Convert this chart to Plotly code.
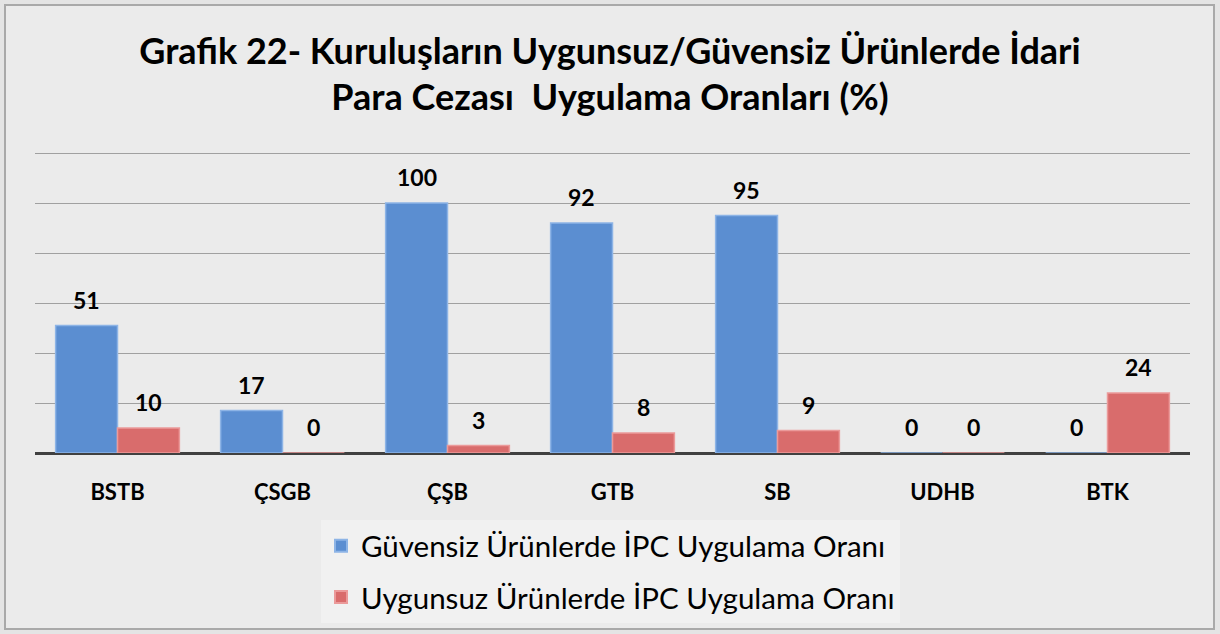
import plotly.graph_objects as go

categories = ["BSTB", "ÇSGB", "ÇŞB", "GTB", "SB", "UDHB", "BTK"]
guvensiz = [51, 17, 100, 92, 95, 0, 0]
uygunsuz = [10, 0, 3, 8, 9, 0, 24]
series_names = ["Güvensiz Ürünlerde İPC Uygulama Oranı",
                "Uygunsuz Ürünlerde İPC Uygulama Oranı"]
title_text = "Grafik 22- Kuruluşların Uygunsuz/Güvensiz Ürünlerde İdari<br>Para Cezası  Uygulama Oranları (%)"

FONT = "Lato"
blue = "#5b8ed1"
red = "#d96c6c"

fig = go.Figure()
fig.add_trace(go.Bar(x=categories, y=guvensiz, name=series_names[0], legendgroup="g",
                     marker=dict(color=blue, line=dict(color="#8db4e6", width=1.5))))
fig.add_trace(go.Bar(x=categories, y=uygunsuz, name=series_names[1], legendgroup="u",
                     marker=dict(color=red, line=dict(color="#eb9a9a", width=1.5))))

annotations = []
for vals, shift in ((guvensiz, -31), (uygunsuz, 31)):
    for c, v in zip(categories, vals):
        annotations.append(dict(x=c, y=v, xref="x", yref="y", text=f"<b>{v}</b>",
                                showarrow=False, xshift=shift, yshift=26,
                                font=dict(family=FONT, size=23, color="black")))

fig.update_layout(
    width=1220, height=634,
    margin=dict(l=35, r=30, t=150, b=181, autoexpand=False),
    paper_bgcolor="#e4e4e4",
    plot_bgcolor="rgba(0,0,0,0)",
    barmode="group", bargap=0.25, bargroupgap=0,
    title=dict(text=f"<b>{title_text}</b>", x=0.5, xanchor="center",
               y=1 - 63.5/634, yanchor="middle", yref="container",
               font=dict(family=FONT, size=36, color="black")),
    xaxis=dict(showgrid=False, ticks="", showline=False, tickangle=0,
               tickfont=dict(family=FONT, size=22, color="black"),
               ticklabelstandoff=24),
    yaxis=dict(range=[0, 121.2], dtick=20, showticklabels=False, showgrid=True,
               gridcolor="#a0a0a0", gridwidth=1, zeroline=True,
               zerolinecolor="#404040", zerolinewidth=3, showline=False),
    showlegend=True,
    legend=dict(xref="container", yref="container", x=321/1220, y=1 - 520/634,
                xanchor="left", yanchor="top", orientation="v",
                bgcolor="#f1f1f1", tracegroupgap=10,
                font=dict(family=FONT, size=29.5, color="black"),
                itemsizing="constant"),
    annotations=annotations,
    shapes=[dict(type="rect", xref="paper", yref="paper",
                 x0=(5-35)/1155, x1=(1214-35)/1155,
                 y0=-(629-453)/303, y1=1 + (150-5)/303,
                 fillcolor="#ebebeb", line=dict(color="#a9a9a9", width=2), layer="below")],
)
fig.update_xaxes(tickvals=categories, ticktext=[f"<b>{c}</b>" for c in categories])

fig.write_html("out.html", config={"displayModeBar": False},
               post_script="document.body.style.margin='0';")
